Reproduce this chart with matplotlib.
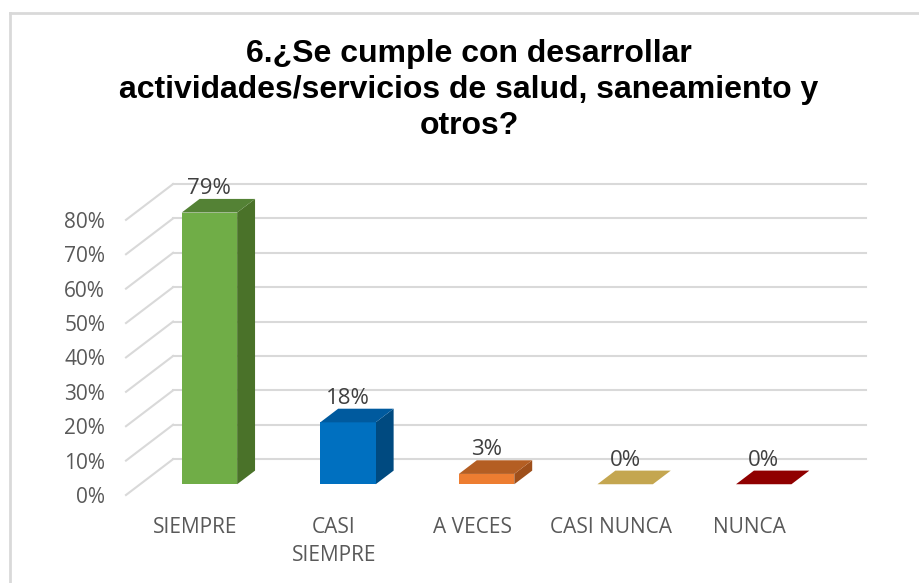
import matplotlib.pyplot as plt
from matplotlib.patches import Polygon, Rectangle
from matplotlib.lines import Line2D

categorias = ['SIEMPRE', 'CASI\nSIEMPRE', 'A VECES', 'CASI NUNCA', 'NUNCA']
valores = [79, 18, 3, 0, 0]
etiquetas = ['79%', '18%', '3%', '0%', '0%']
ticks_y = [0, 10, 20, 30, 40, 50, 60, 70, 80]
ticks_y_lbl = ['0%', '10%', '20%', '30%', '40%', '50%', '60%', '70%', '80%']

# colores: frente, tapa, lateral
col_frente = ['#70AD47', '#0070C0', '#ED7D31', '#C4A650', '#900000']
col_tapa = ['#548235', '#005A9E', '#B45E23', '#C4A650', '#900000']
col_lado = ['#4A7229', '#004A80', '#9E4F1B', '#A88A3C', '#700000']

titulo = '6.¿Se cumple con desarrollar\nactividades/servicios de salud, saneamiento y\notros?'

# profundidad del efecto 3D (unidades de datos)
DX = 0.34
DY = 10.43
d0, d1 = 0.30, 0.68
ancho = 0.40
gris = '#D9D9D9'

W, H = 919, 583
fig = plt.figure(figsize=(W / 100, H / 100), dpi=100)

# marco del grafico
fig.add_artist(Line2D([10 / W, 10 / W], [0, 1 - 13 / H], color=gris, lw=2))
fig.add_artist(Line2D([10 / W, 1], [1 - 13 / H, 1 - 13 / H], color=gris, lw=2))

x_izq, x_der = 126, 866
y_base, y_top = 495, 184
ax = fig.add_axes([x_izq / W, (H - y_base) / H, (x_der - x_izq) / W, (y_base - y_top) / H])
ax.set_xlim(-0.5, len(categorias) - 0.5 + DX)
ax.set_ylim(0, ticks_y[-1] + DY)
for s in ax.spines.values():
    s.set_visible(False)

# lineas de la pared del fondo y pared izquierda
for v in ticks_y:
    ax.plot([-0.5 + DX, len(categorias) - 0.5 + DX], [v + DY, v + DY], color=gris, lw=1.5, zorder=1, clip_on=False)
    ax.plot([-0.5, -0.5 + DX], [v, v + DY], color=gris, lw=1.5, zorder=1, clip_on=False)

dd = d1 - d0
for i, v in enumerate(valores):
    x0 = i - ancho / 2 + d0 * DX
    yb = d0 * DY
    ax.add_patch(Polygon([(x0 + ancho, yb), (x0 + ancho, yb + v), (x0 + ancho + dd * DX, yb + v + dd * DY),
                          (x0 + ancho + dd * DX, yb + dd * DY)], closed=True, fc=col_lado[i], ec='none', zorder=2, clip_on=False))
    if v > 0:
        ax.add_patch(Rectangle((x0, yb), ancho, v, fc=col_frente[i], ec='none', zorder=3, clip_on=False))
    ax.add_patch(Polygon([(x0, yb + v), (x0 + ancho, yb + v), (x0 + ancho + dd * DX, yb + v + dd * DY),
                          (x0 + dd * DX, yb + v + dd * DY)], closed=True, fc=col_tapa[i], ec='none', zorder=3, clip_on=False))
    ax.annotate(etiquetas[i], (x0 + ancho / 2, yb + v + dd * DY), xytext=(0, 0), textcoords='offset points',
                ha='center', va='bottom', fontsize=16, color='#404040', family='Open Sans', zorder=4)

ax.set_yticks(ticks_y)
ax.set_yticklabels(ticks_y_lbl)
ax.set_xticks(range(len(categorias)))
ax.set_xticklabels(categorias, linespacing=1.45)
ax.tick_params(axis='y', length=0, pad=15, labelsize=15, labelcolor='#595959')
ax.tick_params(axis='x', length=0, pad=16, labelsize=15, labelcolor='#595959')
for t in ax.get_xticklabels() + ax.get_yticklabels():
    t.set_family('Open Sans')

fig.text(469 / W, 1 - 90 / H, titulo, ha='center', va='center', fontsize=23, fontweight='bold',
         family='Liberation Sans', linespacing=1.25, color='#000000')

fig.savefig('out.png', dpi=100)
